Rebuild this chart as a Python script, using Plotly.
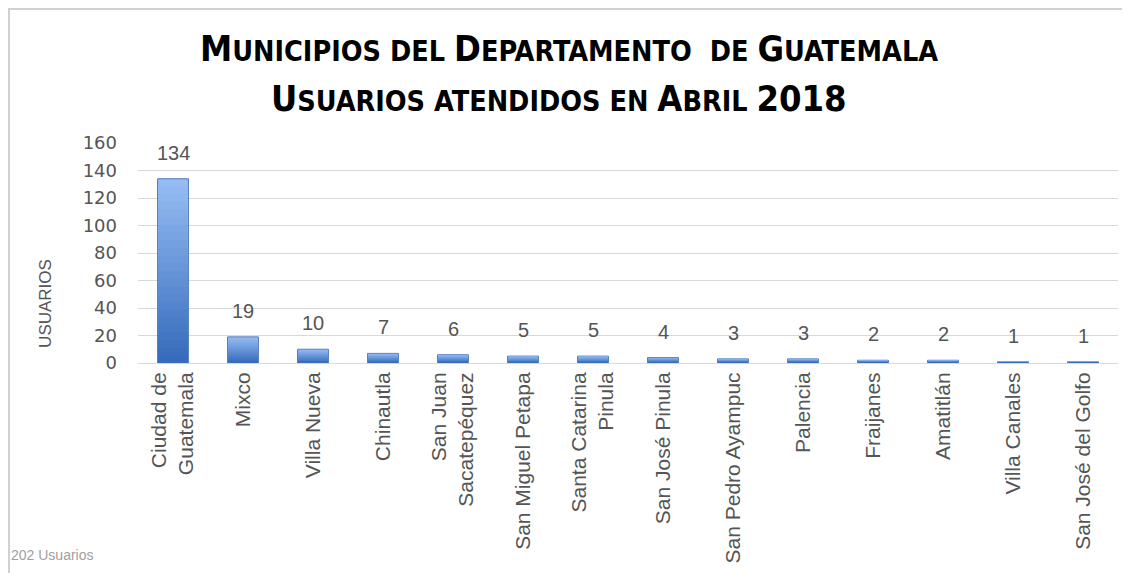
import plotly.graph_objects as go

categories = ["Ciudad de<br>Guatemala", "Mixco", "Villa Nueva", "Chinautla",
              "San Juan<br>Sacatepéquez", "San Miguel Petapa", "Santa Catarina<br>Pinula",
              "San José Pinula", "San Pedro Ayampuc", "Palencia", "Fraijanes",
              "Amatitlán", "Villa Canales", "San José del Golfo"]
usuarios = [134, 19, 10, 7, 6, 5, 5, 4, 3, 3, 2, 2, 1, 1]
y_ticks = [0, 20, 40, 60, 80, 100, 120, 140, 160]

TXT = "#555555"
fig = go.Figure()

# vertical gradient: light top -> dark bottom, drawn as overlaid layers of each bar
top_rgb = (150, 189, 243)
bot_rgb = (55, 108, 188)
N = 24
for k in range(N):
    frac = 1 - k / N
    t = k / (N - 1)
    c = tuple(int(top_rgb[i] + (bot_rgb[i] - top_rgb[i]) * t) for i in range(3))
    fig.add_trace(go.Bar(
        x=categories, y=[v * frac for v in usuarios],
        marker=dict(color=f"rgb{c}",
                    line=dict(color="#4a78b8", width=1 if k == 0 else 0)),
        width=0.44 if k == 0 else 0.42, hoverinfo="skip" if k else None,
    ))

for cat, v in zip(categories, usuarios):
    fig.add_annotation(x=cat, y=v, text=str(v), yshift=26, yanchor="middle",
                       showarrow=False,
                       font=dict(family="Liberation Sans", size=20, color=TXT))

title_font = "DejaVu Sans Condensed"
def sc(text_parts):
    out = ""
    for big, small in text_parts:
        out += f"<span style='font-size:36px'>{big}</span>"
        if small:
            out += f"<span style='font-size:28.5px'>{small}</span>"
    return out

line1 = sc([("M", "UNICIPIOS DEL "), ("D", "EPARTAMENTO  DE "), ("G", "UATEMALA")])
line2 = sc([("U", "SUARIOS ATENDIDOS EN "), ("A", "BRIL "), ("2018", "")])

fig.add_annotation(text="<b>" + line1 + "</b>", xref="paper", yref="paper",
                   x=0.44, y=1.0, yshift=95, yanchor="middle", showarrow=False,
                   font=dict(family=title_font, color="#000000"))
fig.add_annotation(text="<b>" + line2 + "</b>", xref="paper", yref="paper",
                   x=0.43, y=1.0, yshift=45, yanchor="middle", showarrow=False,
                   font=dict(family=title_font, color="#000000"))
fig.add_annotation(text="202 Usuarios", xref="paper", yref="paper",
                   x=-0.1316, y=0, yshift=-192, xanchor="left", yanchor="middle", showarrow=False,
                   font=dict(family="Liberation Sans", size=14, color="#a0a0a0"))
fig.add_annotation(text="USUARIOS", xref="paper", yref="paper",
                   x=-0.095, y=0.0, yshift=60, textangle=-90, xanchor="center", yanchor="middle",
                   showarrow=False, font=dict(family="Liberation Sans", size=17, color=TXT))

fig.add_shape(type="rect", xref="paper", yref="paper",
              x0=-0.1316, x1=1.05, y0=-1.5, y1=1.609,
              line=dict(color="#d0d0d0", width=2))

fig.update_layout(
    width=1122, height=565,
    margin=dict(l=130, r=12, t=135, b=210),
    paper_bgcolor="white", plot_bgcolor="white",
    showlegend=False, barmode="overlay",
)
fig.update_xaxes(tickangle=-90, tickfont=dict(family="Liberation Sans", size=21, color=TXT),
                 showline=True, linecolor="#d9d9d9", linewidth=1, ticks="", automargin=False)
fig.update_yaxes(range=[0, 160], tickvals=y_ticks, showgrid=True, gridcolor="#d9d9d9",
                 tickfont=dict(family="DejaVu Sans", size=18, color=TXT),
                 ticklabelstandoff=20, automargin=False,
                 zeroline=False, ticks="")

fig.write_html("out.html")
